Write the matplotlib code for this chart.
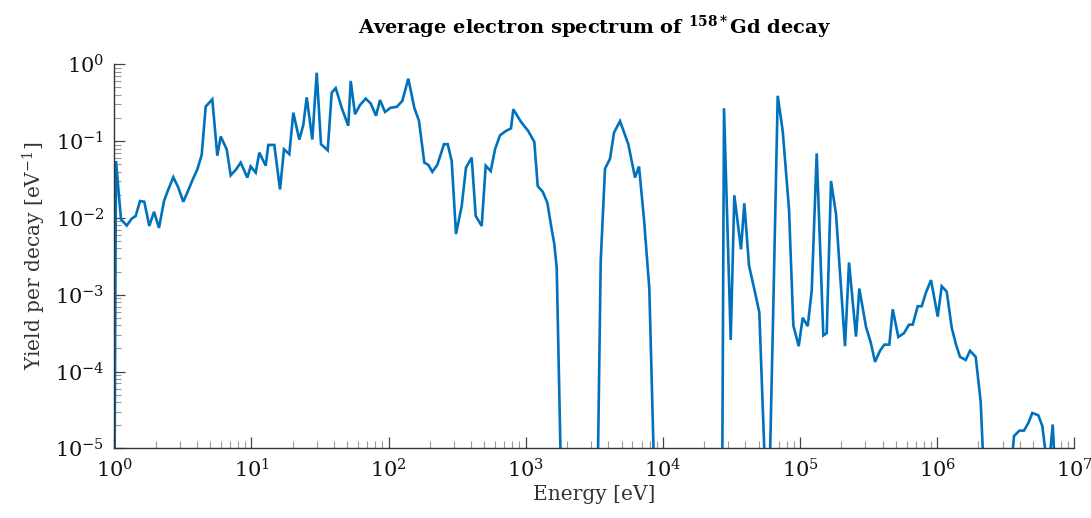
import numpy as np
import matplotlib
matplotlib.use("Agg")
import matplotlib.pyplot as plt
from matplotlib.ticker import FixedLocator, NullFormatter, LogFormatterMathtext

# Data, in decades: log10(energy / eV) and log10(yield / eV^-1)
log10_energy = [
    0.0000, 0.0124, 0.0489, 0.0904, 0.1269, 0.1560, 0.1874, 0.2188, 0.2552, 0.2895,
    0.3259, 0.3624, 0.3938, 0.4302, 0.4667, 0.5031, 0.5396, 0.5717, 0.6052, 0.6373,
    0.6665, 0.7146, 0.7511, 0.7759, 0.8196, 0.8488, 0.8874, 0.9217, 0.9698, 0.9946,
    1.0311, 1.0573, 1.1040, 1.1229, 1.1667, 1.2083, 1.2374, 1.2761, 1.3052, 1.3490,
    1.3782, 1.4030, 1.4438, 1.4759, 1.5072, 1.5561, 1.5852, 1.6144, 1.6625, 1.7063,
    1.7238, 1.7552, 1.7916, 1.8332, 1.8696, 1.9083, 1.9374, 1.9739, 2.0155, 2.0592,
    2.1000, 2.1438, 2.1875, 2.2218, 2.2605, 2.2896, 2.3188, 2.3553, 2.4041, 2.4311,
    2.4602, 2.4916, 2.5332, 2.5645, 2.6061, 2.6353, 2.6790, 2.7082, 2.7447, 2.7760,
    2.8125, 2.8540, 2.8927, 2.9095, 2.9656, 3.0188, 3.0626, 3.0874, 3.1238, 3.1573,
    3.1894, 3.2084, 3.2259, 3.2646,
    3.5198, 3.5468, 3.5781, 3.6146, 3.6437, 3.6875, 3.7480, 3.7969, 3.8260, 3.8625,
    3.9011, 3.9463,
    4.4312, 4.4458, 4.4947, 4.5209, 4.5698, 4.5938, 4.6281, 4.6719, 4.7032, 4.7594,
    4.7703, 4.8053, 4.8374, 4.8739, 4.9198, 4.9512, 4.9906, 5.0197, 5.0561, 5.0853,
    5.1218, 5.1699, 5.1947, 5.2261, 5.2625, 5.3281, 5.3573, 5.4083, 5.4324, 5.4813,
    5.5155, 5.5469, 5.5833, 5.6147, 5.6512, 5.6760, 5.7168, 5.7584, 5.7948, 5.8218,
    5.8583, 5.8874, 5.9188, 5.9552, 6.0041, 6.0333, 6.0697, 6.1062, 6.1375, 6.1667,
    6.2083, 6.2396, 6.2811, 6.3176, 6.3563,
    6.5422, 6.5605, 6.5991, 6.6334, 6.6647, 6.6939, 6.7376, 6.7668, 6.7938, 6.8120,
    6.8426, 6.8594,
]
log10_yield = [
    -6.00, -1.26, -2.02, -2.10, -2.01, -1.975, -1.78, -1.79, -2.105, -1.92,
    -2.13, -1.78, -1.63, -1.47, -1.605, -1.79, -1.64, -1.50, -1.37, -1.18,
    -0.55, -0.456, -1.19, -0.94, -1.107, -1.445, -1.37, -1.28, -1.475, -1.33,
    -1.41, -1.15, -1.32, -1.05, -1.05, -1.63, -1.107, -1.17, -0.63, -0.98,
    -0.79, -0.43, -0.98, -0.11, -1.04, -1.12, -0.37, -0.31, -0.59, -0.80,
    -0.217, -0.65, -0.53, -0.447, -0.51, -0.67, -0.465, -0.62, -0.565, -0.555,
    -0.477, -0.187, -0.565, -0.738, -1.28, -1.31, -1.40, -1.31, -1.04, -1.04,
    -1.26, -2.21, -1.845, -1.345, -1.215, -1.975, -2.105, -1.32, -1.39, -1.107,
    -0.925, -0.87, -0.833, -0.586, -0.75, -0.87, -1.01, -1.585, -1.66, -1.80,
    -2.15, -2.34, -2.65, -6.00,
    -6.00, -2.56, -1.36, -1.23, -0.89, -0.74, -1.04, -1.475, -1.33, -2.02,
    -2.92, -6.00,
    -6.00, -0.573, -3.59, -1.705, -2.41, -1.81, -2.62, -2.97, -3.23, -6.00,
    -6.00, -3.15, -0.41, -0.87, -1.89, -3.40, -3.67, -3.30, -3.41, -2.95,
    -1.16, -3.53, -3.50, -1.52, -1.95, -3.67, -2.58, -3.545, -2.92, -3.42,
    -3.62, -3.875, -3.73, -3.65, -3.65, -3.19, -3.55, -3.50, -3.39, -3.39,
    -3.15, -3.15, -2.97, -2.81, -3.285, -2.89, -2.96, -3.43, -3.65, -3.81,
    -3.85, -3.73, -3.81, -4.40, -6.00,
    -5.20, -4.84, -4.77, -4.77, -4.67, -4.54, -4.57, -4.71, -5.10, -5.30,
    -4.69, -5.30,
]

x_decades = [0, 1, 2, 3, 4, 5, 6, 7]
y_decades = [-5, -4, -3, -2, -1, 0]

energy = 10.0 ** np.array(log10_energy)
yield_ = 10.0 ** np.array(log10_yield)

plt.rcParams['font.family'] = ['DejaVu Serif']
plt.rcParams['mathtext.fontset'] = 'dejavuserif'

fig = plt.figure(figsize=(10.91, 5.18), dpi=100)
ax = fig.add_axes([114.3/1091, (518-448.3)/518, (1074.3-114.3)/1091, (448.3-64.3)/518])

ax.plot(energy, yield_, color='#0072BD', linewidth=1.9, solid_joinstyle='miter')

ax.set_xscale('log')
ax.set_yscale('log')
ax.set_xlim(1, 1e7)
ax.set_ylim(1e-5, 1e0)

for s in ['top', 'right']:
    ax.spines[s].set_visible(False)
for s in ['left', 'bottom']:
    ax.spines[s].set_color('#333333')
    ax.spines[s].set_linewidth(1.0)

x_major = [10.0 ** k for k in x_decades]
y_major = [10.0 ** k for k in y_decades]
x_minor = [m * 10.0 ** k for k in x_decades[:-1] for m in range(2, 10)]
y_minor = [m * 10.0 ** k for k in y_decades[:-1] for m in range(2, 10)]
ax.xaxis.set_major_locator(FixedLocator(x_major))
ax.yaxis.set_major_locator(FixedLocator(y_major))
ax.xaxis.set_minor_locator(FixedLocator(x_minor))
ax.yaxis.set_minor_locator(FixedLocator(y_minor))
ax.xaxis.set_major_formatter(LogFormatterMathtext())
ax.yaxis.set_major_formatter(LogFormatterMathtext())
ax.xaxis.set_minor_formatter(NullFormatter())
ax.yaxis.set_minor_formatter(NullFormatter())

ax.tick_params(which='major', direction='in', length=8, width=0.9, color='#444444',
               labelsize=15, pad=7, labelcolor='#111111')
ax.tick_params(which='minor', direction='in', length=5, width=0.8, color='#999999')

ax.set_xlabel('Energy [eV]', fontsize=14.5, color='#333333', labelpad=3)
ax.set_ylabel(r'Yield per decay [eV$^{\mathregular{-1}}$]', fontsize=14.5, color='#333333', labelpad=5)
ax.set_title(r'Average electron spectrum of $^{\mathbf{158*}}$Gd decay',
             fontsize=14, fontweight='bold', pad=22)

fig.savefig('out.png', dpi=100)
